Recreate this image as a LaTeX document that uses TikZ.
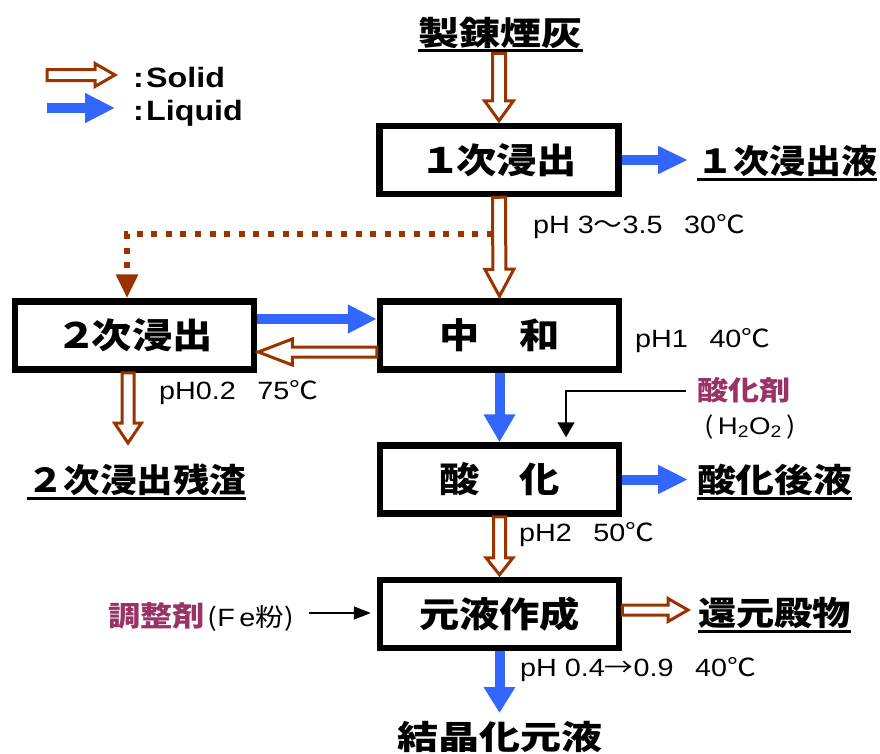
\documentclass[tikz,border=0pt]{standalone}
\usepackage{fontspec}
\setmainfont{Liberation Sans}
\newfontfamily\jp{Noto Sans CJK JP}
\usepackage{graphicx}
\usetikzlibrary{arrows.meta,calc}
\definecolor{brn}{HTML}{993300}
\definecolor{blu}{HTML}{3366FF}
\definecolor{mag}{HTML}{993366}
\newcommand\fw[2]{\resizebox{#1}{\height}{#2}}
\newcommand\hx[1]{\scalebox{1.15}[1]{#1}}
\newcommand\fs[1]{\fontsize{#1}{#1}\selectfont}
\tikzset{
  boxst/.style={draw, line width=6.5pt, minimum width=239pt, minimum height=68pt, inner sep=0pt, font=\jp\bfseries\fs{35}},
  titlest/.style={inner sep=0pt, font=\jp\bfseries\fs{33}},
  uline/.style={line width=3pt},
  smallst/.style={inner sep=0pt, anchor=base west, font=\fs{25}},
  legst/.style={inner sep=0pt, anchor=base west, font=\bfseries\fs{28}},
  hollowst/.style={draw=brn, fill=white, line width=3pt, line join=miter},
  bluest/.style={draw=blu, line width=10pt},
  thinarr/.style={line width=1.5pt},
}
\newcommand\hollowarrow[5]{%
 \draw[hollowst] let \p1=(#1), \p2=(#2), \n1={atan2(\y2-\y1,\x2-\x1)}, \n2={veclen(\x2-\x1,\y2-\y1)} in
 [shift={(\p1)}, rotate=\n1]
 (0pt,{-#3*1pt}) -- ({(\n2-#5)*1pt},{-#3*1pt}) -- ({(\n2-#5)*1pt},{-#4*1pt}) -- ({\n2*1pt},0pt)
 -- ({(\n2-#5)*1pt},{#4*1pt}) -- ({(\n2-#5)*1pt},{#3*1pt}) -- (0pt,{#3*1pt}) -- cycle;}
\begin{document}
\begin{tikzpicture}[x=1pt,y=-1pt]
\useasboundingbox (0,0) rectangle (880,753);
% boxes
\node[boxst] (b1) at (499,160) {\hx{１\hspace{-0.12em}次浸出}};
\node[boxst] (b2) at (499.5,335.5) {\hx{中　和}};
\node[boxst] (b3) at (499.5,479.5) {\hx{酸　化}};
\node[boxst] (b4) at (499.5,614) {\hx{元液作成}};
\node[boxst] (b5) at (134.5,335.5) {\hx{２\hspace{-0.12em}次浸出}};
% titles
\node[titlest] (t0) at (500.5,32.5) {\fw{164pt}{製錬煙灰}};
\node[titlest] (t1) at (787,161) {\fw{180pt}{１次浸出液}};
\node[titlest] (t3) at (774.5,480) {\fw{155pt}{酸化後液}};
\node[titlest] (t4) at (774.5,613) {\fw{153pt}{還元殿物}};
\node[titlest] (t5) at (136.5,480) {\fw{219pt}{２次浸出残渣}};
\node[titlest] (t6) at (500,737) {\fw{205pt}{結晶化元液}};
\foreach \t in {t0,t1,t3,t4,t5}{
  \draw[uline] ($(\t.south west)+(0,2.5)$) -- ($(\t.south east)+(0,2.5)$);
}
% condition labels
\node[smallst] (p1) at (533,233) {\hx{pH 3{\jp 〜}3.5\hspace{0.75em}30{\jp ℃}}};
\node[smallst] (p2) at (159,399) {\hx{pH0.2\hspace{0.75em}75{\jp ℃}}};
\node[smallst] (p3) at (635,347) {\hx{pH1\hspace{0.75em}40{\jp ℃}}};
\node[smallst] (p4) at (519,541) {\hx{pH2\hspace{0.75em}50{\jp ℃}}};
\node[smallst] (p5) at (520,676) {\hx{pH 0.4{\jp →}0.9\hspace{0.75em}40{\jp ℃}}};
% reagents
\node[inner sep=0pt, anchor=base west, font=\jp\bfseries\fs{27}, text=mag] (ox1) at (697,400) {\hx{酸化剤}};
\node[inner sep=0pt, anchor=base, font=\fs{24}] (ox2) at (750,434) {\hx{{\jp(}\hspace{0.15em}H\textsubscript{2}O\textsubscript{2}\hspace{0.15em}{\jp)}}};
\node[inner sep=0pt, anchor=base west] (ad1) at (108,626) {\hx{{\jp\bfseries\fs{28}\color{mag}調整剤}{\fs{25}\hspace{0.1em}{\jp(}F\hspace{0.15em}e{\jp 粉}{\jp)}}}};
% legend
\coordinate (ls1) at (47,75); \coordinate (le1) at (115,75);
\coordinate (ls2) at (47,108); \coordinate (le2) at (115,108);
\hollowarrow{ls1}{le1}{5.5}{11.5}{20}
\draw[bluest, -{Triangle[width=28pt,length=30pt]}] (ls2) -- (le2);
\node[legst] (lg1) at (133,87) {\hx{:\hspace{2pt}Solid}};
\node[legst] (lg2) at (133,120) {\hx{:\hspace{2pt}Liquid}};
% dotted path
\coordinate (ds) at (493,234);
\coordinate (dt) at ($(b5.north)+(-7.5,0)$);
\draw[brn, line width=6pt, dash pattern=on 6pt off 8.6pt, -{Triangle[width=21pt,length=24pt]}] (ds) -| (dt);
% hollow (solid) arrows
\hollowarrow{$(t0.south -| b1.north)+(0,5)$}{$(b1.north)+(0,-2)$}{6.5}{14.5}{20}
\hollowarrow{b1.south}{$(b2.north)+(0,-2)$}{6.5}{14.5}{27}
\hollowarrow{$(b2.west)+(0,16.5)$}{$(b5.east)+(1,16.5)$}{5}{13}{34}
\coordinate (dtip) at (128,443);
\hollowarrow{b5.south -| dtip}{dtip}{6}{13.5}{20}
\hollowarrow{b3.south}{$(b4.north)+(0,-2)$}{6}{13.5}{17}
\coordinate (fend) at (688,610);
\hollowarrow{$(b4.east)+(0,-4)$}{fend}{5}{11.5}{20}
% blue (liquid) arrows
\coordinate (bt1) at (688,160);
\coordinate (bt3) at (688,479.5);
\coordinate (bt6) at (499.5,713);
\draw[bluest, -{Triangle[width=26pt,length=30pt]}] (b1.east) -- (bt1);
\draw[bluest, -{Triangle[width=27pt,length=30pt]}] (b3.east) -- (bt3);
\draw[bluest, -{Triangle[width=27pt,length=29pt]}] ($(b5.east)+(0,-16.5)$) -- ($(b2.west)+(0,-16.5)$);
\draw[bluest, -{Triangle[width=30pt,length=28pt]}] (b2.south) -- (b3.north);
\draw[bluest, -{Triangle[width=30pt,length=26pt]}] (b4.south) -- (bt6);
% thin reagent arrows
\coordinate (ox) at (686,391); \coordinate (oxd) at (566,0);
\draw[thinarr, -{Triangle[width=17pt,length=15pt]}, shorten >=5pt] (ox) -| (b3.north -| oxd);
\coordinate (ad) at (309,613);
\draw[thinarr, -{Triangle[width=13pt,length=17pt]}, shorten >=6pt] (ad) -- (ad -| b4.west);
\end{tikzpicture}
\end{document}
